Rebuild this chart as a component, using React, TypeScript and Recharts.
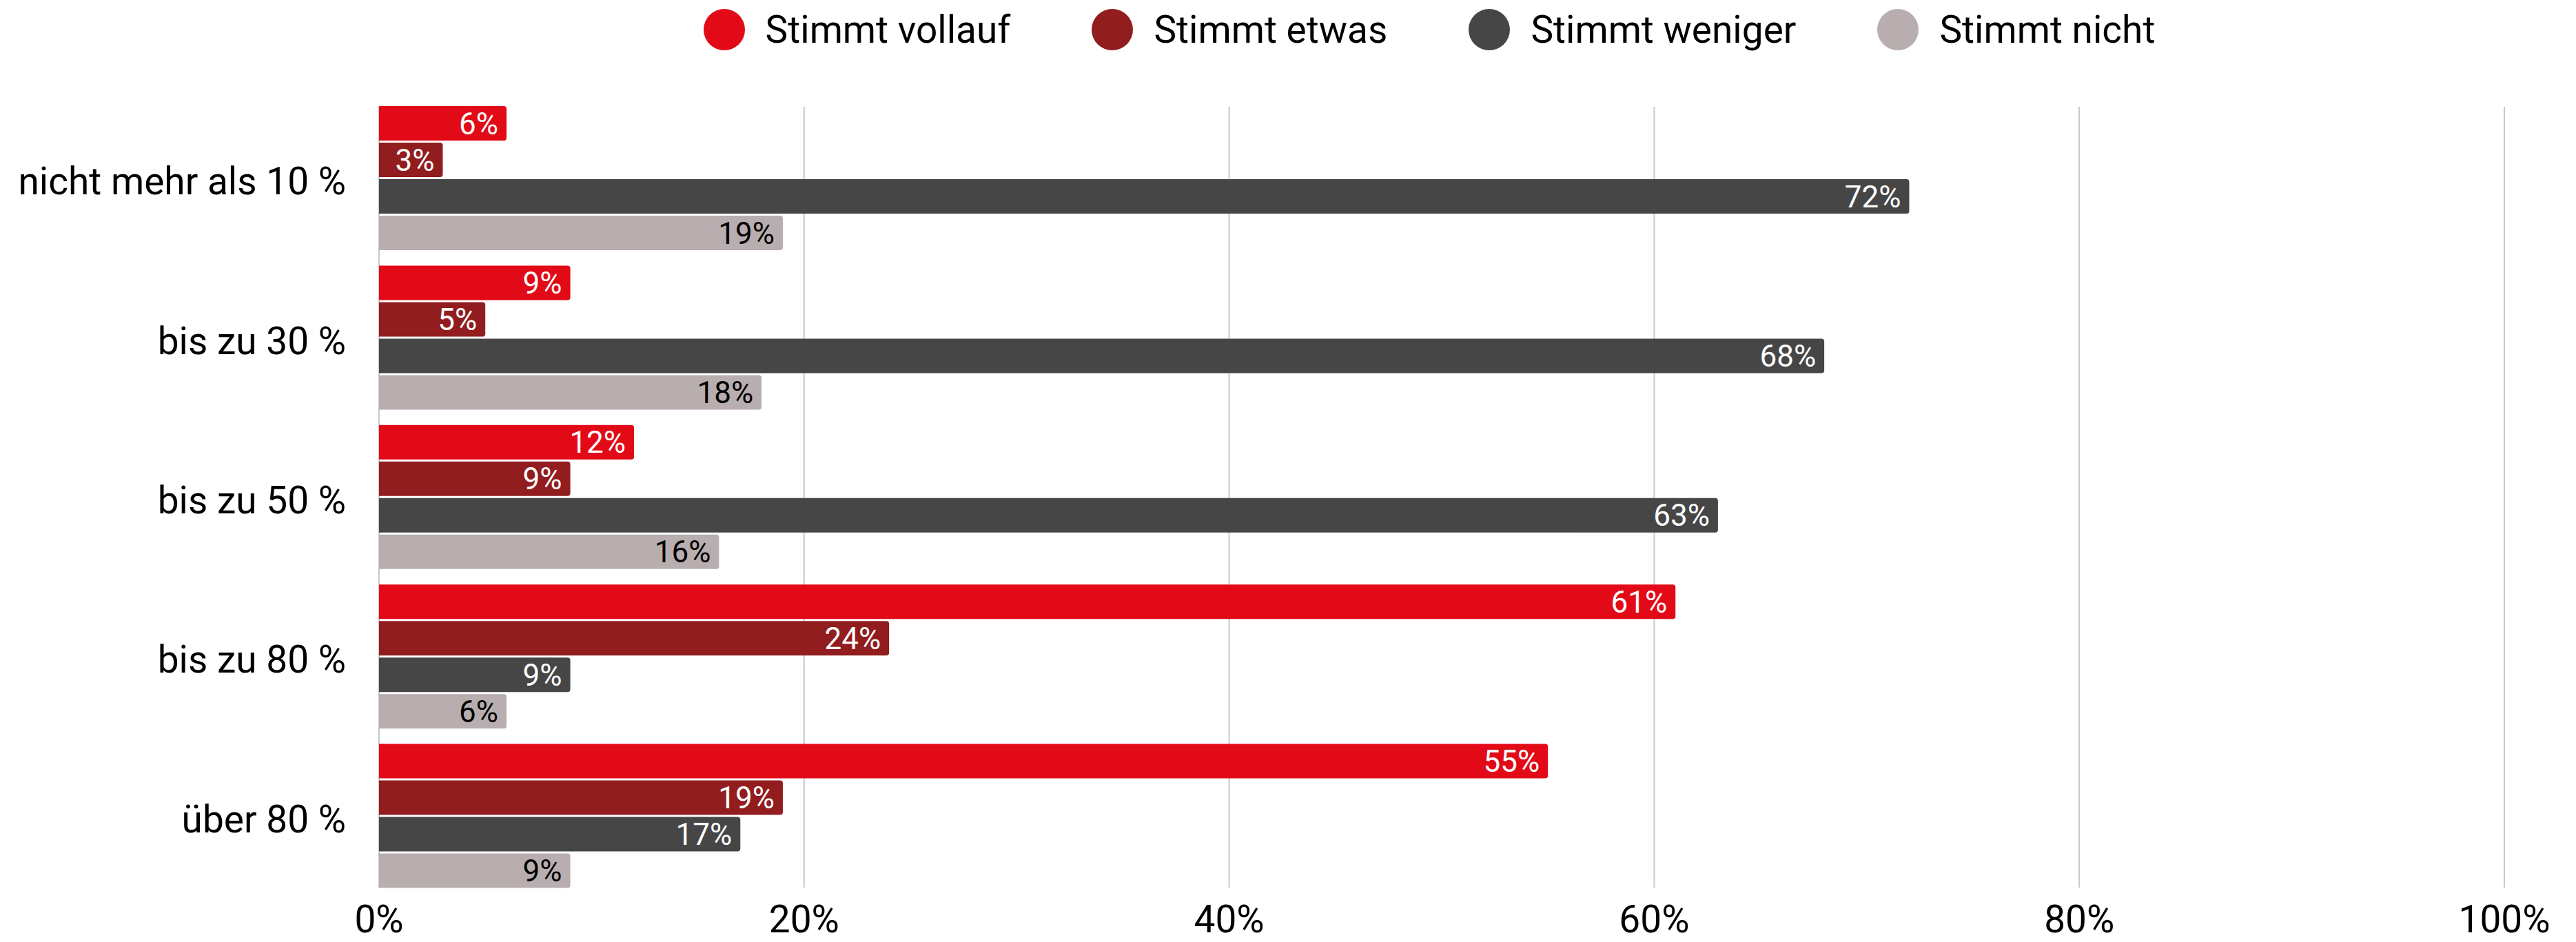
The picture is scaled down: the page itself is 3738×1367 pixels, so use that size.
import React from 'react';
import {
  BarChart,
  Bar,
  XAxis,
  YAxis,
  CartesianGrid,
  Legend,
  LabelList,
} from 'recharts';

// --- Data ---

const categories = ['nicht mehr als 10 %', 'bis zu 30 %', 'bis zu 50 %', 'bis zu 80 %', 'über 80 %'];

const vollauf = [6, 9, 12, 61, 55];
const etwas = [3, 5, 9, 24, 19];
const weniger = [72, 68, 63, 9, 17];
const nicht = [19, 18, 16, 6, 9];

const xTicks = [0, 20, 40, 60, 80, 100];

const series = [
  { key: 'vollauf', name: 'Stimmt vollauf', color: '#E20A17', label: '#ffffff' },
  { key: 'etwas', name: 'Stimmt etwas', color: '#921D1F', label: '#ffffff' },
  { key: 'weniger', name: 'Stimmt weniger', color: '#464646', label: '#ffffff' },
  { key: 'nicht', name: 'Stimmt nicht', color: '#B8AEAF', label: '#000000' },
];

const data = categories.map((c, i) => ({
  category: c,
  vollauf: vollauf[i],
  etwas: etwas[i],
  weniger: weniger[i],
  nicht: nicht[i],
}));

const FONT = 'Roboto, "Liberation Sans", sans-serif';

// --- Legend ---

const LegendContent = () => (
  <div
    style={{
      width: 3738,
      height: 155,
      boxSizing: 'border-box',
      paddingLeft: 410,
      display: 'flex',
      justifyContent: 'center',
      alignItems: 'flex-start',
      fontFamily: FONT,
    }}
  >
    {series.map((s, i) => (
      <div
        key={s.key}
        style={{
          display: 'flex',
          alignItems: 'center',
          height: 86,
          marginRight: i < series.length - 1 ? 118 : 0,
        }}
      >
        <span
          style={{
            display: 'inline-block',
            width: 60,
            height: 60,
            borderRadius: '50%',
            backgroundColor: s.color,
            marginRight: 30,
          }}
        />
        <span style={{ fontSize: 55, color: '#000', lineHeight: 1 }}>{s.name}</span>
      </div>
    ))}
  </div>
);

export default function App() {
  return (
    <div style={{ position: 'absolute', left: 0, top: 0, fontFamily: FONT, background: '#fff' }}>
      <BarChart
        width={3738}
        height={1367}
        data={data}
        layout="vertical"
        margin={{ top: 0, right: 104, bottom: 0, left: 0 }}
        barSize={50}
        barGap={3}
      >
        <CartesianGrid horizontal={false} stroke="#C8C8C8" strokeWidth={2} />
        <XAxis
          type="number"
          domain={[0, 100]}
          ticks={xTicks}
          tickFormatter={(v: number) => `${v}%`}
          axisLine={false}
          tickLine={false}
          tickSize={0}
          tickMargin={26}
          height={79}
          tick={{ fontSize: 55, fill: '#000' }}
        />
        <YAxis
          type="category"
          dataKey="category"
          width={550}
          axisLine={false}
          tickLine={false}
          tickSize={0}
          tickMargin={48}
          padding={{ top: -12, bottom: -12 }}
          tick={{ fontSize: 55, fill: '#000', dy: 4 }}
        />
        <Legend verticalAlign="top" align="left" content={<LegendContent />} wrapperStyle={{ top: 0, left: 0 }} />
        {series.map((s) => (
          <Bar
            key={s.key}
            dataKey={s.key}
            name={s.name}
            fill={s.color}
            radius={[0, 4, 4, 0]}
            isAnimationActive={false}
          >
            <LabelList
              dataKey={s.key}
              position="insideRight"
              offset={12}
              fill={s.label}
              fontSize={44}
              formatter={(v: number) => `${v}%`}
            />
          </Bar>
        ))}
      </BarChart>
    </div>
  );
}
